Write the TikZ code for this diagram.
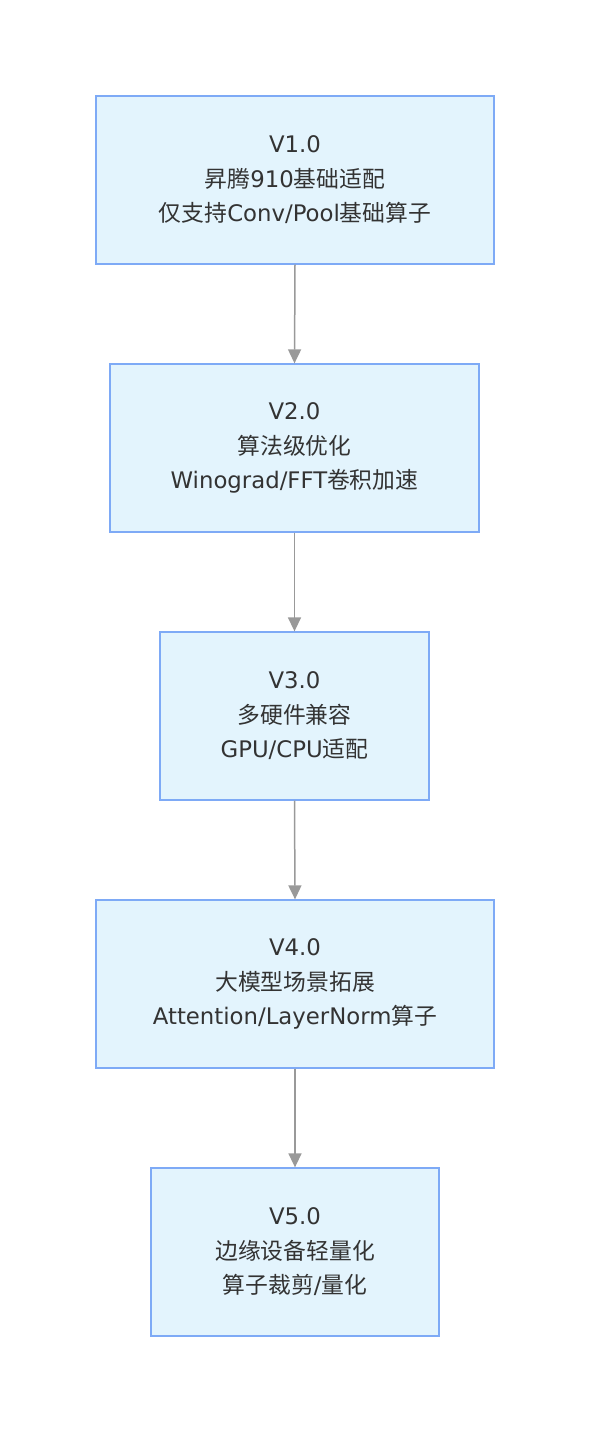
\documentclass[tikz,border=0pt]{standalone}
\usepackage{fontspec}
\setmainfont{DejaVu Sans}
\newfontfamily\cjk{Noto Sans CJK SC}
\newcommand{\zh}[1]{{\cjk #1}}
\usetikzlibrary{arrows.meta}
\definecolor{boxfill}{HTML}{E3F4FD}
\definecolor{boxline}{HTML}{7EAAF6}
\definecolor{arrowc}{HTML}{999999}
\definecolor{txt}{HTML}{333333}
\tikzset{
  stage/.style={draw=boxline, fill=boxfill, line width=1.3pt, minimum height=168pt,
    align=center, font=\fontsize{22.8pt}{34.5pt}\selectfont, text=txt, inner sep=0pt},
  flow/.style={draw=arrowc, line width=1.5pt, -{Triangle[width=13pt,length=14pt,fill=arrowc]}}
}
\begin{document}
\begin{tikzpicture}[x=1pt,y=-1pt]
\useasboundingbox (0,0) rectangle (590,1432);
\node[stage, minimum width=398pt] (v1) at (295,180) {V1.0\\\zh{昇腾}910\zh{基础适配}\\\zh{仅支持}Conv/Pool\zh{基础算子}};
\node[stage, minimum width=369pt] (v2) at (294.5,448) {V2.0\\\zh{算法级优化}\\Winograd/FFT\zh{卷积加速}};
\node[stage, minimum width=269pt] (v3) at (294.5,716) {V3.0\\\zh{多硬件兼容}\\GPU/CPU\zh{适配}};
\node[stage, minimum width=398pt] (v4) at (295,984) {V4.0\\\zh{大模型场景拓展}\\Attention/LayerNorm\zh{算子}};
\node[stage, minimum width=288pt] (v5) at (295,1252) {V5.0\\\zh{边缘设备轻量化}\\\zh{算子裁剪}/\zh{量化}};
\draw[flow] (v1.south) -- (v2.north);
\draw[flow] (v2.south) -- (v3.north);
\draw[flow] (v3.south) -- (v4.north);
\draw[flow] (v4.south) -- (v5.north);
\end{tikzpicture}
\end{document}
